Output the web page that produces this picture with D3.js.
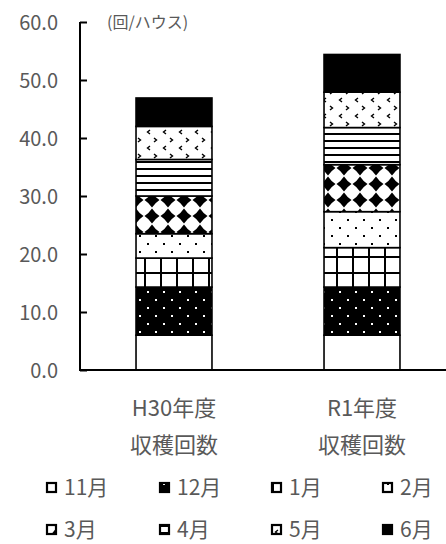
<!DOCTYPE html>
<html>
<head>
<meta charset="utf-8">
<script src="https://cdn.jsdelivr.net/npm/d3@7"></script>
<style>
  html, body { margin: 0; padding: 0; background: #fff; }
  svg { display: block; }
  text { font-family: "Noto Sans CJK JP", "Noto Sans", sans-serif; fill: #595959; }
</style>
</head>
<body>
<svg id="chart" width="446" height="544"></svg>
<script>
// Harvest count per house, stacked by month
const categories = ["H30年度|収穫回数", "R1年度|収穫回数"];
const months = ["11月", "12月", "1月", "2月", "3月", "4月", "5月", "6月"];
const valuesH30 = [6.0, 8.3, 5.0, 4.2, 6.5, 6.3, 5.7, 4.9];
const valuesR1  = [6.0, 8.3, 6.8, 6.2, 8.1, 6.4, 6.1, 6.5];
const yTicks = [0, 10, 20, 30, 40, 50, 60];
const unitLabel = "(回/ハウス)";

const svg = d3.select("#chart");

const x = d3.scaleBand().domain(categories).range([80, 456])
  .paddingInner(0.596).paddingOuter(0.298);
const y = d3.scaleLinear().domain([0, 60]).range([370, 22]);

// ---- fill patterns ----
const defs = svg.append("defs");

function pat(id, w, h, draw) {
  const p = defs.append("pattern").attr("id", id)
    .attr("patternUnits", "userSpaceOnUse").attr("width", w).attr("height", h);
  draw(p);
}
// 11月: plain white
pat("p0", 8, 8, p => p.append("rect").attr("width", 8).attr("height", 8).attr("fill", "#fff"));
// 12月: black with white dots
pat("p1", 16, 16, p => {
  p.append("rect").attr("width", 16).attr("height", 16).attr("fill", "#000");
  p.append("rect").attr("x", 3).attr("y", 3).attr("width", 2).attr("height", 2).attr("fill", "#fff");
  p.append("rect").attr("x", 11).attr("y", 11).attr("width", 2).attr("height", 2).attr("fill", "#fff");
});
// 1月: grid
pat("p2", 16, 16, p => {
  p.append("rect").attr("width", 16).attr("height", 16).attr("fill", "#fff");
  p.append("rect").attr("x", 0).attr("y", 0).attr("width", 2).attr("height", 16).attr("fill", "#000");
  p.append("rect").attr("x", 0).attr("y", 0).attr("width", 16).attr("height", 2).attr("fill", "#000");
});
// 2月: white with sparse black dots
pat("p3", 16, 16, p => {
  p.append("rect").attr("width", 16).attr("height", 16).attr("fill", "#fff");
  p.append("rect").attr("x", 3).attr("y", 3).attr("width", 2).attr("height", 2).attr("fill", "#000");
  p.append("rect").attr("x", 11).attr("y", 11).attr("width", 2).attr("height", 2).attr("fill", "#000");
});
// 3月: four-point star lattice
pat("p4", 16, 16, p => {
  p.append("rect").attr("width", 16).attr("height", 16).attr("fill", "#fff");
  p.append("path").attr("d", "M8,0.5 Q11,5 15.5,8 Q11,11 8,15.5 Q5,11 0.5,8 Q5,5 8,0.5Z").attr("fill", "#000");
});
// 4月: horizontal stripes
pat("p5", 8, 7, p => {
  p.append("rect").attr("width", 8).attr("height", 7).attr("fill", "#fff");
  p.append("rect").attr("y", 0).attr("width", 8).attr("height", 2).attr("fill", "#000");
});
// 5月: small chevrons
pat("p6", 16, 16, p => {
  p.append("rect").attr("width", 16).attr("height", 16).attr("fill", "#fff");
  p.append("path").attr("d", "M6,2 L3.5,4 L6,6").attr("fill", "none").attr("stroke", "#000").attr("stroke-width", 1.4);
  p.append("path").attr("d", "M10,10 L12.5,12 L10,14").attr("fill", "none").attr("stroke", "#000").attr("stroke-width", 1.4);
});
// 6月: solid black
pat("p7", 8, 8, p => p.append("rect").attr("width", 8).attr("height", 8).attr("fill", "#000"));

// ---- stacked bars ----
const rows = categories.map((c, i) => {
  const vals = i === 0 ? valuesH30 : valuesR1;
  const o = { cat: c };
  months.forEach((m, j) => o[m] = vals[j]);
  return o;
});
const stack = d3.stack().keys(months)(rows);

svg.append("g").selectAll("g").data(stack).join("g")
  .attr("fill", (d, i) => `url(#p${i})`)
  .selectAll("rect").data(d => d).join("rect")
  .attr("x", d => x(d.data.cat))
  .attr("width", x.bandwidth())
  .attr("y", d => y(d[1]))
  .attr("height", d => y(d[0]) - y(d[1]))
  .attr("stroke", "#000").attr("stroke-width", 1.6);

// ---- axes ----
const yAxis = d3.axisRight(y).tickValues(yTicks).tickSize(7).tickFormat(d3.format(".1f"));
const gy = svg.append("g").attr("transform", "translate(80,0)").call(yAxis);
gy.select(".domain").remove();
gy.selectAll("line").attr("stroke", "#000").attr("stroke-width", 2);
gy.selectAll("text").attr("x", -22).attr("text-anchor", "end")
  .attr("font-size", 20).attr("dy", "0.35em");
svg.append("line").attr("x1", 80).attr("x2", 80).attr("y1", y(60)).attr("y2", y(0) + 1)
  .attr("stroke", "#000").attr("stroke-width", 2);
svg.append("line").attr("x1", 79).attr("x2", 446).attr("y1", y(0)).attr("y2", y(0))
  .attr("stroke", "#000").attr("stroke-width", 2);

// category labels (two lines each)
categories.forEach(c => {
  const lines = c.split("|");
  const cx = x(c) + x.bandwidth() / 2;
  lines.forEach((t, k) => {
    svg.append("text").attr("x", cx).attr("y", 408 + k * 37).attr("dy", "0.35em")
      .attr("text-anchor", "middle").attr("font-size", 22).text(t);
  });
});

// unit label
svg.append("text").attr("x", 107).attr("y", 22).attr("dy", "0.35em")
  .attr("font-size", 16).text(unitLabel);

// ---- legend ----
const legX = [47, 160, 272, 383];
const legY = [488, 530];
months.forEach((m, i) => {
  const lx = legX[i % 4], ly = legY[Math.floor(i / 4)];
  svg.append("rect").attr("x", lx).attr("y", ly - 5).attr("width", 9).attr("height", 9)
    .attr("fill", `url(#p${i})`).attr("stroke", "#000").attr("stroke-width", 2.2);
  svg.append("text").attr("x", lx + 17).attr("y", ly).attr("dy", "0.35em")
    .attr("font-size", 21).text(m);
});
</script>
</body>
</html>
